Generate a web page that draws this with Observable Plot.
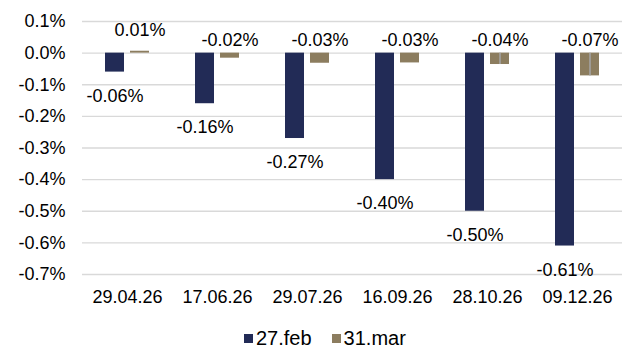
<!DOCTYPE html>
<html>
<head>
<meta charset="utf-8">
<script src="https://cdn.jsdelivr.net/npm/d3@7"></script>
<script src="https://cdn.jsdelivr.net/npm/@observablehq/plot@0.6"></script>
<style>
  html, body { margin: 0; padding: 0; background: #fff; }
  #wrap { position: relative; width: 624px; height: 349px; overflow: hidden; font-family: "Liberation Sans", Arial, sans-serif; }
  #legend { position: absolute; top: 328px; left: 244px; display: flex; align-items: center; font-size: 20px; line-height: 20px; color: #000; white-space: nowrap; }
  .item { display: flex; align-items: center; margin-right: 20px; }
  .sw { width: 9px; height: 9px; display: inline-block; margin-right: 3px; }
</style>
</head>
<body>
<div id="wrap"><div id="chart"></div><div id="legend"></div></div>
<script>
const dates = ["29.04.26", "17.06.26", "29.07.26", "16.09.26", "28.10.26", "09.12.26"];
const series = ["27.feb", "31.mar"];
const feb = [-0.06, -0.16, -0.27, -0.40, -0.50, -0.61];
const mar = [0.006, -0.016, -0.032, -0.031, -0.036, -0.072];
const leaderDates = ["28.10.26", "09.12.26"];
const yTicks = [0.1, 0, -0.1, -0.2, -0.3, -0.4, -0.5, -0.6, -0.7];
const colors = ["#222b56", "#8c7d5f"];

const rows = [];
dates.forEach((d, i) => {
  rows.push({date: d, series: series[0], value: feb[i]});
  rows.push({date: d, series: series[1], value: mar[i]});
});
const febRows = rows.filter(r => r.series === series[0]);
const marRows = rows.filter(r => r.series === series[1]);
const fmtLabel = v => (Math.round(v * 100) / 100).toFixed(2) + "%";
const fmtTick = v => (Math.abs(v) < 1e-9 ? 0 : v).toFixed(1) + "%";

const chart = Plot.plot({
  width: 624,
  height: 320,
  marginLeft: 79,
  marginRight: 0,
  marginTop: 21,
  marginBottom: 46,
  style: {fontFamily: "'Liberation Sans', Arial, sans-serif", fontSize: "18px", color: "#000", background: "white"},
  fx: {domain: dates, padding: 0, label: null, axis: "bottom", tickSize: 0, tickPadding: 16},
  x: {domain: series, axis: null, paddingInner: 0.23, paddingOuter: 0.862},
  y: {domain: [-0.7, 0.1], ticks: yTicks, tickFormat: fmtTick, tickSize: 0, tickPadding: 17, label: null},
  color: {domain: series, range: colors},
  marks: [
    Plot.gridY(yTicks, {stroke: "#d9d9d9", strokeOpacity: 1, strokeWidth: 1.3}),
    Plot.barY(rows, {fx: "date", x: "series", y: "value", fill: "series"}),
    Plot.ruleX(marRows.filter(r => leaderDates.includes(r.date)), {fx: "date", x: "series", y1: 0, y2: "value", stroke: "#a6a6a6", strokeWidth: 1.5}),
    Plot.text(febRows, {fx: "date", x: "series", y: "value", dy: 24, text: d => fmtLabel(d.value), fill: "#000"}),
    Plot.text(marRows.filter(r => r.value > 0), {fx: "date", x: "series", y: "value", dy: -21, text: d => fmtLabel(d.value), fill: "#000"}),
    Plot.text(marRows.filter(r => r.value <= 0), {fx: "date", x: "series", y: () => 0, dy: -13, text: d => fmtLabel(d.value), fill: "#000"})
  ]
});
document.getElementById("chart").appendChild(chart);

const legend = document.getElementById("legend");
series.forEach((s, i) => {
  const item = document.createElement("span");
  item.className = "item";
  const sw = document.createElement("span");
  sw.className = "sw";
  sw.style.background = colors[i];
  item.appendChild(sw);
  item.appendChild(document.createTextNode(s));
  legend.appendChild(item);
});
</script>
</body>
</html>
